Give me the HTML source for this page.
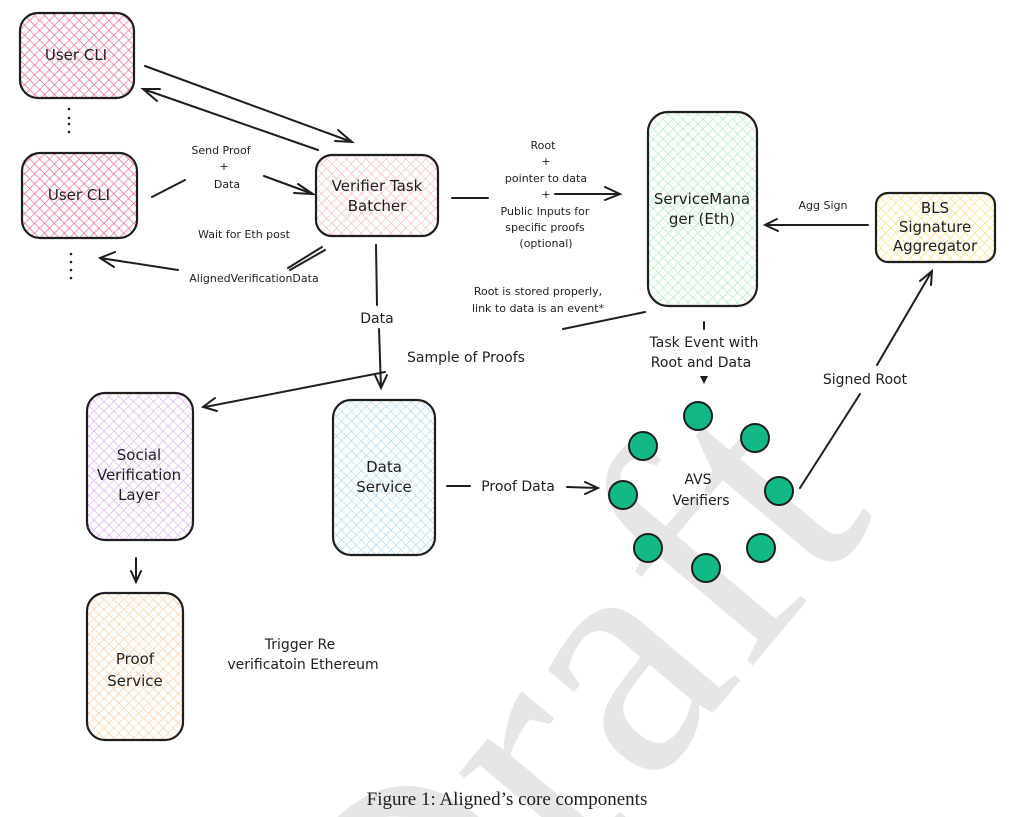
<!DOCTYPE html>
<html><head><meta charset="utf-8"><style>
html,body{margin:0;padding:0;background:#fff;width:1021px;height:817px;overflow:hidden}
svg text{font-family:"DejaVu Sans","Liberation Sans",sans-serif;fill:#1e1e1e}
</style></head><body>
<svg width="1021" height="817" viewBox="0 0 1021 817" xmlns="http://www.w3.org/2000/svg" style="display:block;overflow:hidden">
<defs>
<clipPath id="cl"><rect width="1021" height="817"/></clipPath>
<pattern id="pk" width="7" height="7" patternUnits="userSpaceOnUse" patternTransform="rotate(45)"><rect width="7" height="7" fill="#fff"/><path d="M0 0H7M0 0V7" stroke="#ec6b8e" stroke-width="1.4"/></pattern>
<pattern id="pk2" width="7" height="7" patternUnits="userSpaceOnUse" patternTransform="rotate(45)"><rect width="7" height="7" fill="#fff"/><path d="M0 0H7M0 0V7" stroke="#f7b3b6" stroke-width="1.2"/></pattern>
<pattern id="gr" width="7" height="7" patternUnits="userSpaceOnUse" patternTransform="rotate(45)"><rect width="7" height="7" fill="#fff"/><path d="M0 0H7M0 0V7" stroke="#a8e6b4" stroke-width="1.2"/></pattern>
<pattern id="ye" width="7" height="7" patternUnits="userSpaceOnUse" patternTransform="rotate(45)"><rect width="7" height="7" fill="#fff"/><path d="M0 0H7M0 0V7" stroke="#f7dc6f" stroke-width="1.2"/></pattern>
<pattern id="pu" width="7" height="7" patternUnits="userSpaceOnUse" patternTransform="rotate(45)"><rect width="7" height="7" fill="#fff"/><path d="M0 0H7M0 0V7" stroke="#d9a8f0" stroke-width="1.2"/></pattern>
<pattern id="bl" width="7" height="7" patternUnits="userSpaceOnUse" patternTransform="rotate(45)"><rect width="7" height="7" fill="#fff"/><path d="M0 0H7M0 0V7" stroke="#a5d4f5" stroke-width="1.2"/></pattern>
<pattern id="or" width="7" height="7" patternUnits="userSpaceOnUse" patternTransform="rotate(45)"><rect width="7" height="7" fill="#fff"/><path d="M0 0H7M0 0V7" stroke="#fcc99a" stroke-width="1.2"/></pattern>
</defs>

<g clip-path="url(#cl)">
<g transform="translate(-225 30)">
<text x="330" y="930" transform="rotate(-50 600 650)" style="font-family:'Liberation Serif',serif;font-size:340px;fill:#e6e6e6">Draft</text>
</g>
</g>

<g stroke="#1e1e1e" stroke-width="2.2">
<rect x="20" y="13" width="114" height="85" rx="18" fill="url(#pk)"/>
<rect x="22" y="153" width="115" height="85" rx="18" fill="url(#pk)"/>
<rect x="316" y="155" width="122" height="81" rx="16" fill="url(#pk2)"/>
<rect x="648" y="112" width="109" height="194" rx="20" fill="url(#gr)"/>
<rect x="876" y="193" width="119" height="69" rx="12" fill="url(#ye)"/>
<rect x="87" y="393" width="106" height="147" rx="18" fill="url(#pu)"/>
<rect x="333" y="400" width="102" height="155" rx="18" fill="url(#bl)"/>
<rect x="87" y="593" width="96" height="147" rx="18" fill="url(#or)"/>
</g>

<g stroke="#1e1e1e" stroke-width="2" fill="#12b886">
<circle cx="698" cy="416" r="14"/><circle cx="643" cy="446" r="14"/><circle cx="755" cy="438" r="14"/>
<circle cx="623" cy="495" r="14"/><circle cx="779" cy="491" r="14"/><circle cx="648" cy="548" r="14"/>
<circle cx="761" cy="548" r="14"/><circle cx="706" cy="568" r="14"/>
</g>

<g fill="#1e1e1e"><circle cx="69" cy="109" r="1.3"/><circle cx="69" cy="118" r="1.3"/><circle cx="69" cy="124" r="1.3"/><circle cx="69" cy="132" r="1.3"/>
<circle cx="71" cy="254" r="1.3"/><circle cx="71" cy="262" r="1.3"/><circle cx="71" cy="270" r="1.3"/><circle cx="71" cy="278" r="1.3"/></g>

<g stroke="#1e1e1e" stroke-width="2" fill="none" stroke-linecap="round">
<path d="M145 66L352 142M338 130L352 142L335 141"/>
<path d="M318 150L143 89M160 89L143 89L157 101"/>
<path d="M152 197L185 180M264 176L313 194M298 184L313 194L294 193"/>
<path d="M325 250L290 270M322 247L288 268M178 270L100 258M115 252L100 258L114 267"/>
<path d="M452 198L488 198M555 194L620 194M605 187L620 194L605 200"/>
<path d="M868 225L765 225M777 219L765 225L778 231"/>
<path d="M376 245L377 305M379 329L381 388M375 375L381 388L387 375"/>
<path d="M645 312L563 329M385 372L205 407M215 398L203 407L217 411"/>
<path d="M704 322L704 329"/>
<path d="M447 486L470 486M567 487L598 488M585 482L598 488L585 494"/>
<path d="M800 488L860 394M877 365L932 271M920 281L932 271L931 285"/>
<path d="M136 558L136 580M131 571L136 582L141 571"/>
</g>
<path d="M700 376L708 376L704 384Z" fill="#1e1e1e"/>

<g font-size="15" text-anchor="middle">
<text x="76" y="60">User CLI</text>
<text x="79" y="200">User CLI</text>
<text x="377" y="191">Verifier Task</text><text x="377" y="211">Batcher</text>
<text x="702" y="204">ServiceMana</text><text x="702" y="224">ger (Eth)</text>
<text x="935" y="213">BLS</text><text x="935" y="232">Signature</text><text x="935" y="251">Aggregator</text>
<text x="139" y="460">Social</text><text x="139" y="480">Verification</text><text x="139" y="500">Layer</text>
<text x="384" y="472">Data</text><text x="384" y="492">Service</text>
<text x="135" y="664">Proof</text><text x="135" y="686">Service</text>
</g>
<g font-size="14" text-anchor="middle">
<text x="698" y="484">AVS</text>
<text x="701" y="505">Verifiers</text>
<text x="377" y="323">Data</text>
<text x="466" y="362">Sample of Proofs</text>
<text x="704" y="347">Task Event with</text><text x="701" y="367">Root and Data</text>
<text x="865" y="384">Signed Root</text>
<text x="518" y="491">Proof Data</text>
<text x="300" y="649">Trigger Re</text><text x="303" y="669">verificatoin Ethereum</text>
</g>
<g font-size="11" text-anchor="middle">
<text x="221" y="154">Send Proof</text><text x="224" y="170">+</text><text x="227" y="188">Data</text>
<text x="244" y="238">Wait for Eth post</text>
<text x="254" y="282">AlignedVerificationData</text>
<text x="543" y="149">Root</text><text x="546" y="165">+</text><text x="546" y="182">pointer to data</text><text x="546" y="198">+</text>
<text x="545" y="215">Public Inputs for</text><text x="545" y="231">specific proofs</text><text x="546" y="247">(optional)</text>
<text x="823" y="209">Agg Sign</text>
<text x="538" y="295">Root is stored properly,</text><text x="538" y="312">link to data is an event*</text>
</g>
<text x="507" y="805" text-anchor="middle" style="font-family:'Liberation Serif',serif;font-size:19px">Figure 1: Aligned’s core components</text>
</svg>
</body></html>
